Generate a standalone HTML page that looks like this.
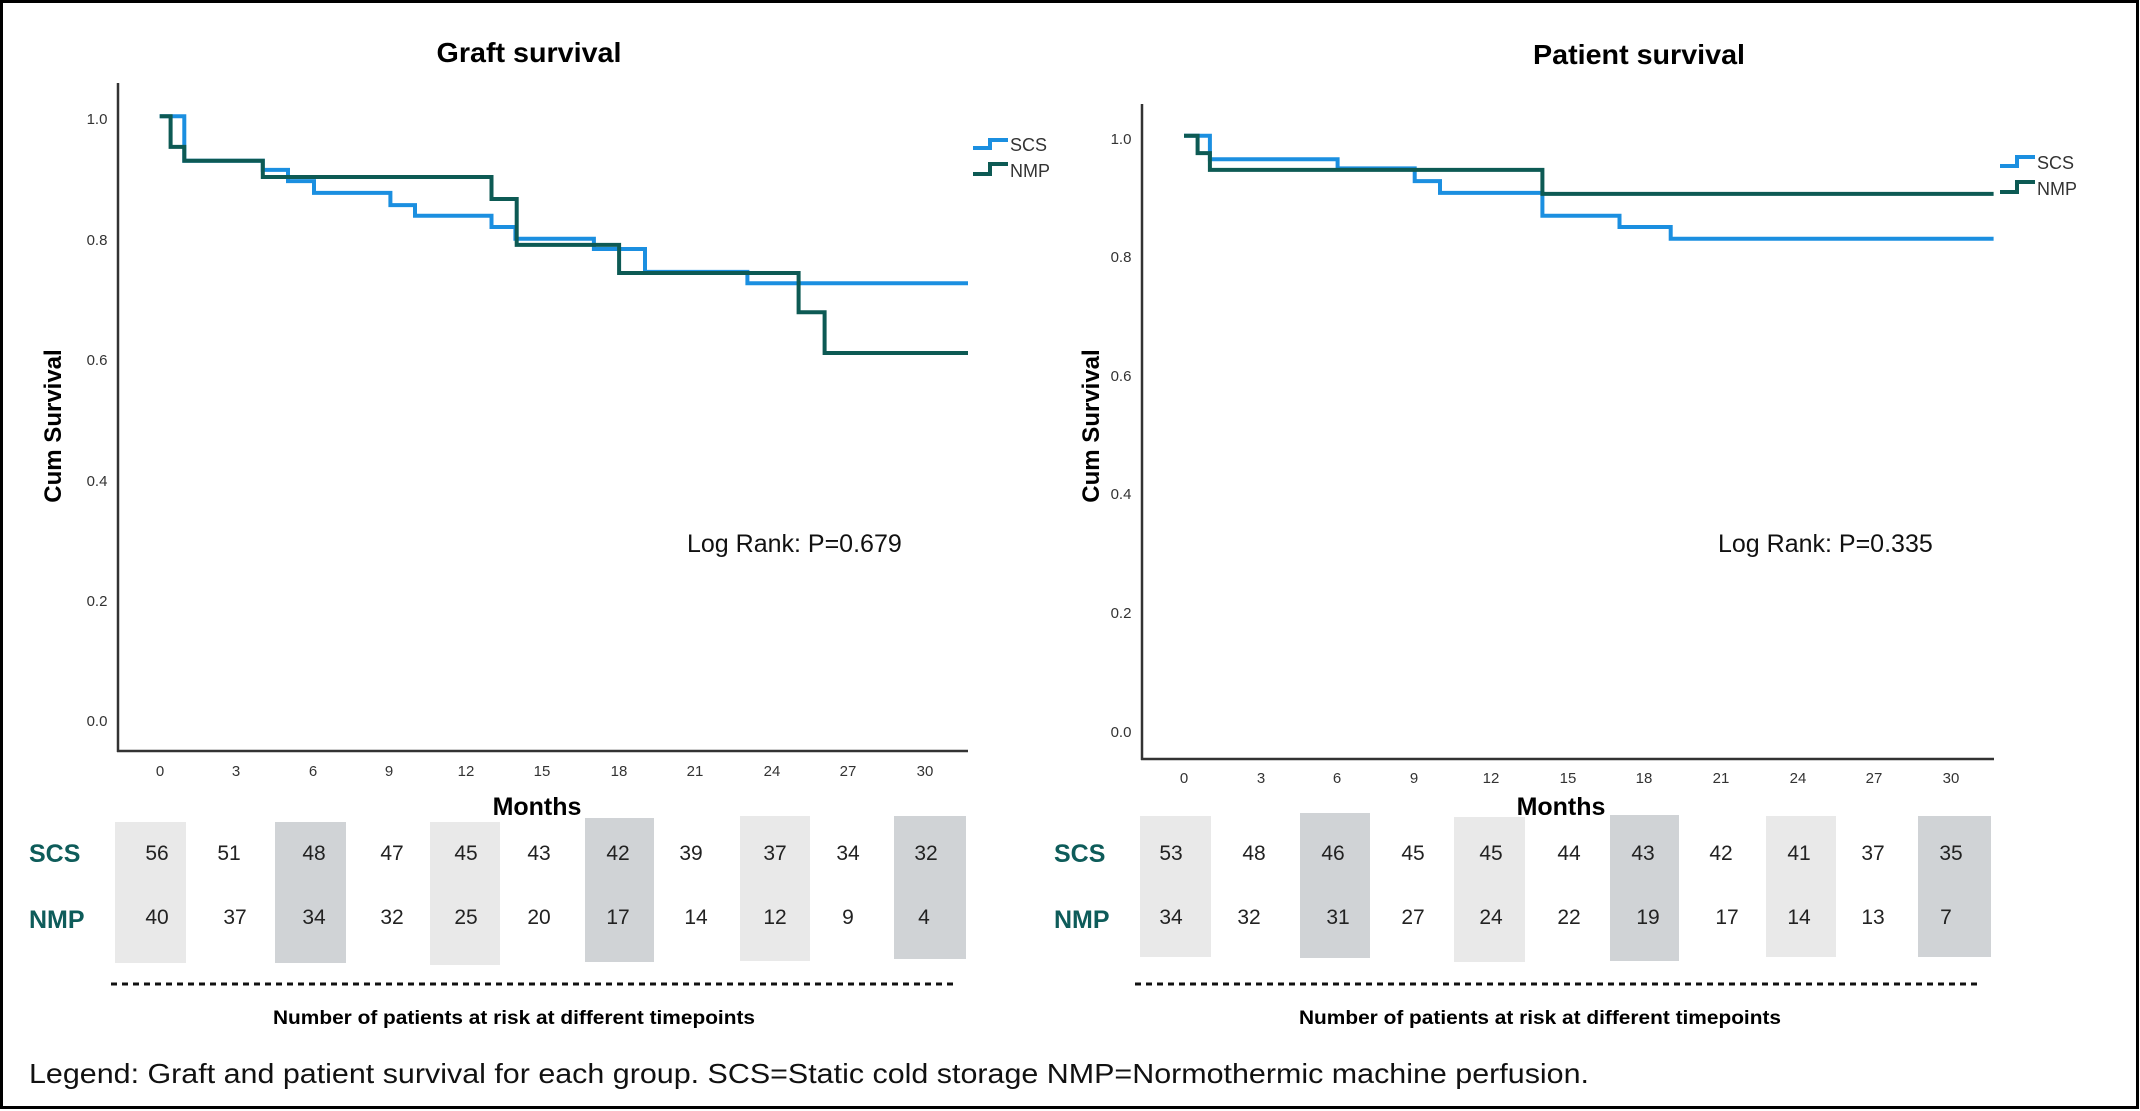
<!DOCTYPE html>
<html><head><meta charset="utf-8"><style>
html,body{margin:0;padding:0;background:#fff}
svg{display:block}
text{font-family:"Liberation Sans",sans-serif}
</style></head><body>
<svg width="2140" height="1111" viewBox="0 0 2140 1111" xmlns="http://www.w3.org/2000/svg">
<rect x="1.5" y="1.5" width="2136" height="1106" fill="#fff" stroke="#000" stroke-width="3"/>

<!-- LEFT CHART -->
<text x="529" y="62" font-size="28" font-weight="bold" text-anchor="middle" textLength="185" lengthAdjust="spacingAndGlyphs">Graft survival</text>
<line x1="118" y1="83" x2="118" y2="752" stroke="#333" stroke-width="2.5"/>
<line x1="117" y1="751" x2="968" y2="751" stroke="#333" stroke-width="2.5"/>
<g font-size="15" fill="#333" text-anchor="middle">
<text x="97" y="124">1.0</text><text x="97" y="245">0.8</text><text x="97" y="365">0.6</text><text x="97" y="486">0.4</text><text x="97" y="606">0.2</text><text x="97" y="726">0.0</text>
<text x="160" y="776">0</text><text x="236" y="776">3</text><text x="313" y="776">6</text><text x="389" y="776">9</text><text x="466" y="776">12</text><text x="542" y="776">15</text><text x="619" y="776">18</text><text x="695" y="776">21</text><text x="772" y="776">24</text><text x="848" y="776">27</text><text x="925" y="776">30</text>
</g>
<text transform="translate(61,426) rotate(-90)" font-size="24" font-weight="bold" text-anchor="middle">Cum Survival</text>
<path d="M159.7,116.3H184.3V160.7H262.8V169.9H288V181.1H314V192.9H390.4V205.1H415V215.8H491.5V227H515.4V238.8H593.9V249H645V271.9H747.4V283.2H968" fill="none" stroke="#1b8fe0" stroke-width="4"/>
<path d="M159.7,116.3H170.6V146.9H184.3V160.7H262.8V177H491.5V199H516.7V244.9H619.1V273H798.6V312.2H824.6V353H968" fill="none" stroke="#0d5a54" stroke-width="4"/>
<path d="M973,148H990V140H1008" fill="none" stroke="#1b8fe0" stroke-width="4"/>
<path d="M973,174H990V164H1008" fill="none" stroke="#0d5a54" stroke-width="4"/>
<g font-size="18" fill="#333"><text x="1010" y="151">SCS</text><text x="1010" y="177">NMP</text></g>
<text x="687" y="552" font-size="25" fill="#111">Log Rank: P=0.679</text>

<text x="537" y="815" font-size="25" font-weight="bold" text-anchor="middle">Months</text>
<g>
<rect x="115" y="822" width="71" height="141" fill="#e9e9e9"/>
<rect x="275" y="822" width="71" height="141" fill="#d0d3d6"/>
<rect x="430" y="822" width="70" height="143" fill="#e9e9e9"/>
<rect x="585" y="818" width="69" height="144" fill="#d0d3d6"/>
<rect x="740" y="816" width="70" height="145" fill="#e9e9e9"/>
<rect x="894" y="816" width="72" height="143" fill="#d0d3d6"/>
</g>
<g font-size="25" font-weight="bold" fill="#0e5c5a"><text x="29" y="862">SCS</text><text x="29" y="928">NMP</text></g>
<g font-size="21" fill="#222" text-anchor="middle">
<text x="157" y="860">56</text><text x="229" y="860">51</text><text x="314" y="860">48</text><text x="392" y="860">47</text><text x="466" y="860">45</text><text x="539" y="860">43</text><text x="618" y="860">42</text><text x="691" y="860">39</text><text x="775" y="860">37</text><text x="848" y="860">34</text><text x="926" y="860">32</text>
<text x="157" y="924">40</text><text x="235" y="924">37</text><text x="314" y="924">34</text><text x="392" y="924">32</text><text x="466" y="924">25</text><text x="539" y="924">20</text><text x="618" y="924">17</text><text x="696" y="924">14</text><text x="775" y="924">12</text><text x="848" y="924">9</text><text x="924" y="924">4</text>
</g>
<line x1="111" y1="984" x2="955" y2="984" stroke="#111" stroke-width="3" stroke-dasharray="6,5"/>
<text x="514" y="1024" font-size="19" font-weight="bold" text-anchor="middle" textLength="482" lengthAdjust="spacingAndGlyphs">Number of patients at risk at different timepoints</text>

<!-- RIGHT CHART -->
<text x="1639" y="64" font-size="28" font-weight="bold" text-anchor="middle" textLength="212" lengthAdjust="spacingAndGlyphs">Patient survival</text>
<line x1="1142" y1="104" x2="1142" y2="760" stroke="#333" stroke-width="2.5"/>
<line x1="1141" y1="759" x2="1994" y2="759" stroke="#333" stroke-width="2.5"/>
<g font-size="15" fill="#333" text-anchor="middle">
<text x="1121" y="144">1.0</text><text x="1121" y="262">0.8</text><text x="1121" y="381">0.6</text><text x="1121" y="499">0.4</text><text x="1121" y="618">0.2</text><text x="1121" y="737">0.0</text>
<text x="1184" y="783">0</text><text x="1261" y="783">3</text><text x="1337" y="783">6</text><text x="1414" y="783">9</text><text x="1491" y="783">12</text><text x="1568" y="783">15</text><text x="1644" y="783">18</text><text x="1721" y="783">21</text><text x="1798" y="783">24</text><text x="1874" y="783">27</text><text x="1951" y="783">30</text>
</g>
<text transform="translate(1099,426) rotate(-90)" font-size="24" font-weight="bold" text-anchor="middle">Cum Survival</text>
<path d="M1184,135.7H1209.9V159.2H1337.6V168.4H1414.7V181.1H1440V192.9H1542.4V215.8H1619.5V227H1670.7V238.8H1993.6" fill="none" stroke="#1b8fe0" stroke-width="4"/>
<path d="M1184,135.7H1197.6V153.1H1209.9V169.9H1542.4V193.9H1993.6" fill="none" stroke="#0d5a54" stroke-width="4"/>
<path d="M2000,166H2017V157H2035" fill="none" stroke="#1b8fe0" stroke-width="4"/>
<path d="M2000,192H2017V182H2035" fill="none" stroke="#0d5a54" stroke-width="4"/>
<g font-size="18" fill="#333"><text x="2037" y="169">SCS</text><text x="2037" y="195">NMP</text></g>
<text x="1718" y="552" font-size="25" fill="#111">Log Rank: P=0.335</text>

<text x="1561" y="815" font-size="25" font-weight="bold" text-anchor="middle">Months</text>
<g>
<rect x="1140" y="816" width="71" height="141" fill="#e9e9e9"/>
<rect x="1300" y="813" width="70" height="145" fill="#d0d3d6"/>
<rect x="1454" y="817" width="71" height="145" fill="#e9e9e9"/>
<rect x="1610" y="815" width="69" height="146" fill="#d0d3d6"/>
<rect x="1766" y="816" width="70" height="141" fill="#e9e9e9"/>
<rect x="1918" y="816" width="73" height="141" fill="#d0d3d6"/>
</g>
<g font-size="25" font-weight="bold" fill="#0e5c5a"><text x="1054" y="862">SCS</text><text x="1054" y="928">NMP</text></g>
<g font-size="21" fill="#222" text-anchor="middle">
<text x="1171" y="860">53</text><text x="1254" y="860">48</text><text x="1333" y="860">46</text><text x="1413" y="860">45</text><text x="1491" y="860">45</text><text x="1569" y="860">44</text><text x="1643" y="860">43</text><text x="1721" y="860">42</text><text x="1799" y="860">41</text><text x="1873" y="860">37</text><text x="1951" y="860">35</text>
<text x="1171" y="924">34</text><text x="1249" y="924">32</text><text x="1338" y="924">31</text><text x="1413" y="924">27</text><text x="1491" y="924">24</text><text x="1569" y="924">22</text><text x="1648" y="924">19</text><text x="1727" y="924">17</text><text x="1799" y="924">14</text><text x="1873" y="924">13</text><text x="1946" y="924">7</text>
</g>
<line x1="1135" y1="984" x2="1981" y2="984" stroke="#111" stroke-width="3" stroke-dasharray="6,5"/>
<text x="1540" y="1024" font-size="19" font-weight="bold" text-anchor="middle" textLength="482" lengthAdjust="spacingAndGlyphs">Number of patients at risk at different timepoints</text>

<text x="29" y="1083" font-size="28" fill="#111" textLength="1560" lengthAdjust="spacingAndGlyphs">Legend: Graft and patient survival for each group. SCS=Static cold storage NMP=Normothermic machine perfusion.</text>
</svg>
</body></html>
